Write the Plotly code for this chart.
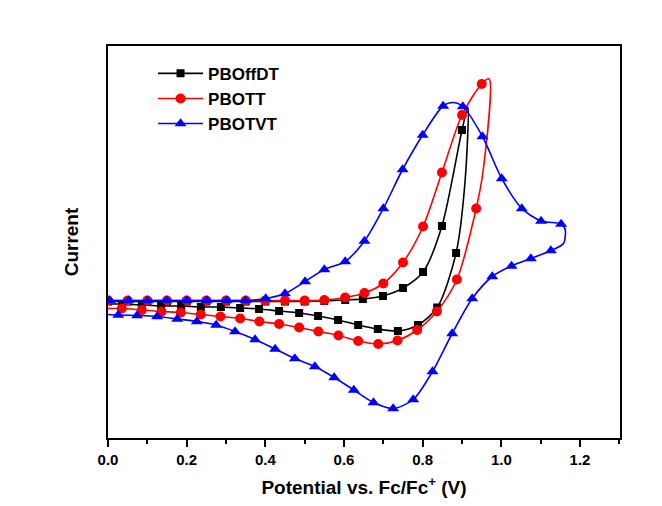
import plotly.graph_objects as go

# ---------------- data (potential in V, current in arbitrary units) ----------------
pboffdt_v = [0.0, 0.05, 0.10, 0.15, 0.20, 0.25, 0.30, 0.35, 0.40, 0.45, 0.50, 0.55,
             0.603, 0.648, 0.699, 0.750, 0.801, 0.849, 0.900, 0.915, 0.908, 0.885,
             0.837, 0.788, 0.737, 0.686, 0.636, 0.585, 0.534, 0.486, 0.435, 0.384,
             0.336, 0.287, 0.236, 0.186, 0.135, 0.086, 0.036, 0.0]
pboffdt_i = [-0.03, -0.03, -0.03, -0.03, -0.03, -0.03, -0.03, -0.03, -0.03, -0.03, -0.03, -0.02,
             0.0, 0.02, 0.08, 0.24, 0.56, 1.48, 3.40, 3.86, 2.40, 0.94,
             -0.15, -0.50, -0.62, -0.58, -0.50, -0.40, -0.32, -0.26, -0.22, -0.18,
             -0.16, -0.14, -0.14, -0.12, -0.12, -0.10, -0.08, -0.08]
pboffdt_marked = [1] * 19 + [0, 0] + [1] * 18 + [0]

pbott_v = [0.0, 0.05, 0.10, 0.15, 0.20, 0.25, 0.30, 0.35, 0.40, 0.45, 0.50, 0.55,
           0.603, 0.652, 0.700, 0.750, 0.801, 0.849, 0.900, 0.950, 0.969, 0.954,
           0.936, 0.887, 0.836, 0.786, 0.736, 0.687, 0.636, 0.586, 0.535, 0.486,
           0.435, 0.385, 0.336, 0.286, 0.236, 0.185, 0.136, 0.086, 0.035, 0.0]
pbott_i = [-0.01, -0.01, -0.01, -0.01, -0.01, -0.01, -0.01, -0.01, -0.01, -0.01, -0.01, 0.0,
           0.05, 0.14, 0.33, 0.75, 1.47, 2.55, 3.70, 4.32, 4.42, 2.60,
           1.83, 0.41, -0.23, -0.60, -0.81, -0.88, -0.82, -0.71, -0.63, -0.55,
           -0.48, -0.43, -0.37, -0.33, -0.29, -0.25, -0.23, -0.20, -0.17, -0.17]
pbott_marked = [1] * 20 + [0, 0] + [1] * 19 + [0]

pbotvt_v = [0.005, 0.052, 0.101, 0.149, 0.200, 0.251, 0.302, 0.350, 0.401, 0.450,
            0.501, 0.550, 0.603, 0.652, 0.700, 0.749, 0.800, 0.852, 0.877, 0.902,
            0.952, 1.001, 1.052, 1.101, 1.152, 1.162, 1.158, 1.126, 1.075, 1.026,
            0.977, 0.926, 0.875, 0.825, 0.776, 0.725, 0.675, 0.625, 0.575, 0.526,
            0.475, 0.425, 0.374, 0.323, 0.275, 0.226, 0.176, 0.125, 0.074, 0.026, 0.0]
pbotvt_i = [-0.01, -0.01, -0.01, -0.01, -0.01, -0.01, -0.01, -0.01, 0.03, 0.13,
            0.37, 0.61, 0.77, 1.18, 1.83, 2.61, 3.30, 3.88, 3.95, 3.87,
            3.27, 2.43, 1.83, 1.58, 1.52, 1.42, 1.13, 0.99, 0.83, 0.68,
            0.47, 0.03, -0.67, -1.43, -1.99, -2.17, -2.05, -1.80, -1.55, -1.33,
            -1.17, -0.98, -0.79, -0.63, -0.50, -0.43, -0.38, -0.33, -0.31, -0.30, -0.29]
pbotvt_marked = [1] * 18 + [0] + [1] * 6 + [0, 0] + [1] * 23 + [0]

series_names = ["PBOffDT", "PBOTT", "PBOTVT"]
x_ticks = [0.0, 0.2, 0.4, 0.6, 0.8, 1.0, 1.2]

# ---------------- figure ----------------
FONT = "Liberation Sans, Arial, sans-serif"
series = [
    (series_names[0], pboffdt_v, pboffdt_i, pboffdt_marked, "#000000", "square", 8),
    (series_names[1], pbott_v, pbott_i, pbott_marked, "#FF0000", "circle", 10),
    (series_names[2], pbotvt_v, pbotvt_i, pbotvt_marked, "#0000FF", "triangle-up", 10.5),
]

fig = go.Figure()
for name, xs, ys, marked, color, symbol, msize in series:
    fig.add_trace(go.Scatter(
        x=xs, y=ys, mode="lines", line=dict(color=color, width=1.6, shape="spline", smoothing=0.8),
        showlegend=False, hoverinfo="skip"))
    mx = [x for x, m in zip(xs, marked) if m]
    my = [y for y, m in zip(ys, marked) if m]
    fig.add_trace(go.Scatter(
        x=mx, y=my, mode="markers",
        marker=dict(symbol=symbol, size=msize, color=color, line=dict(width=0)),
        showlegend=False, name=name))
    fig.add_trace(go.Scatter(
        x=[None], y=[None], mode="lines+markers", name=name,
        line=dict(color=color, width=1.6),
        marker=dict(symbol=symbol, size=msize, color=color, line=dict(width=0))))

fig.update_layout(
    width=662, height=506,
    margin=dict(l=108, r=42, t=46, b=68),
    paper_bgcolor="white", plot_bgcolor="white",
    font=dict(family=FONT, color="black"),
    legend=dict(
        x=0.088, y=0.975, xanchor="left", yanchor="top",
        bgcolor="rgba(0,0,0,0)", borderwidth=0,
        font=dict(family=FONT, size=17, color="black", weight="bold"),
        itemwidth=45, tracegroupgap=0,
    ),
    xaxis=dict(
        range=[0, 1.3017], tickvals=x_ticks, ticktext=[f"{t:.1f}" for t in x_ticks],
        ticks="outside", ticklen=7, tickwidth=1.5, tickcolor="black",
        minor=dict(dtick=0.1, tick0=0, ticks="outside", ticklen=4, tickwidth=1.5, tickcolor="black"),
        showline=True, linecolor="black", linewidth=1.8, mirror=True,
        showgrid=False, zeroline=False,
        tickfont=dict(family=FONT, size=15, color="black", weight="bold"),
        title=dict(text="Potential vs. Fc/Fc<sup>+</sup> (V)", standoff=14,
                   font=dict(family=FONT, size=19, color="black", weight="bold")),
    ),
    yaxis=dict(
        range=[-2.76, 5.08], showticklabels=False, ticks="",
        showline=True, linecolor="black", linewidth=1.8, mirror=True,
        showgrid=False, zeroline=False,
        title=dict(text="Current", standoff=22,
                   font=dict(family=FONT, size=19, color="black", weight="bold")),
    ),
)

fig.write_html("out.html")
